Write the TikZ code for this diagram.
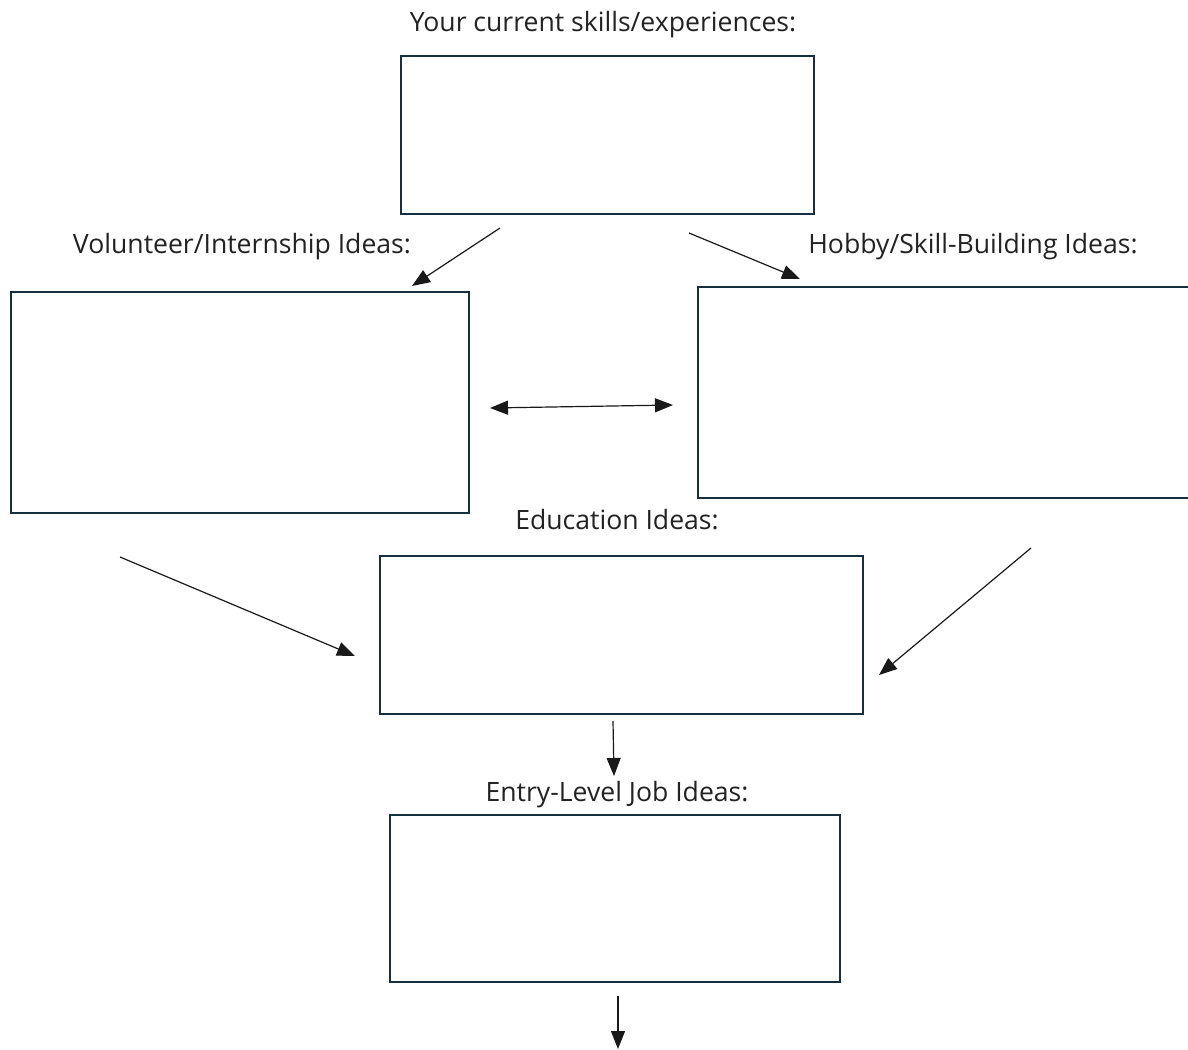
\documentclass[tikz,border=0pt]{standalone}
\usepackage{fontspec}
\setmainfont{Open Sans}
\usetikzlibrary{arrows.meta}
\definecolor{boxc}{HTML}{17303D}
\definecolor{txt}{HTML}{222222}
\begin{document}
\begin{tikzpicture}[x=0.5pt,y=-0.5pt,
  ideabox/.style={draw=boxc,line width=1pt},
  lbl/.style={text=txt,font=\fontsize{13.3}{16}\selectfont,inner sep=0pt},
  conn/.style={draw=black!90,line width=0.6pt,-{Triangle[length=9pt,width=7pt]}},
  dconn/.style={draw=black!90,line width=0.6pt,{Triangle[length=9pt,width=7pt]}-{Triangle[length=9pt,width=7pt]}}]
\useasboundingbox (0,0) rectangle (1188,1049);
% labels
\node[lbl] (t1) at (603,25) {Your current skills/experiences:};
\node[lbl] (t2) at (242,247) {Volunteer/Internship Ideas:};
\node[lbl] (t3) at (973,247) {Hobby/Skill-Building Ideas:};
\node[lbl] (t4) at (617,520) {Education Ideas:};
\node[lbl] (t5) at (617,795) {Entry-Level Job Ideas:};
% boxes
\draw[ideabox] (401,56) rectangle (814,214);
\node (b1) at (607.5,135) {};
\draw[ideabox] (11,292) rectangle (469,513);
\node (b2) at (240,402) {};
\draw[ideabox] (1200,287) -- (698,287) -- (698,498) -- (1200,498);
\node (b3) at (945,392) {};
\draw[ideabox] (380,556) rectangle (863,714);
\node (b4) at (621,635) {};
\draw[ideabox] (390,815) rectangle (840,982);
\node (b5) at (615,898) {};
% connector end points
\coordinate (a1s) at (500,228); \coordinate (a1e) at (412,286);
\coordinate (a2s) at (689,233); \coordinate (a2e) at (800,279);
\coordinate (a3s) at (490,408); \coordinate (a3e) at (673,405);
\coordinate (a4s) at (120,557); \coordinate (a4e) at (355,656);
\coordinate (a5s) at (1031,548); \coordinate (a5e) at (879,675);
\coordinate (a6s) at (613,721); \coordinate (a6e) at (614,776);
\coordinate (a7s) at (618,996); \coordinate (a7e) at (618,1049);
\draw[conn] (a1s) -- (a1e);
\draw[conn] (a2s) -- (a2e);
\draw[dconn] (a3s) -- (a3e);
\draw[conn] (a4s) -- (a4e);
\draw[conn] (a5s) -- (a5e);
\draw[conn] (a6s) -- (a6e);
\draw[conn] (a7s) -- (a7e);
\end{tikzpicture}
\end{document}
